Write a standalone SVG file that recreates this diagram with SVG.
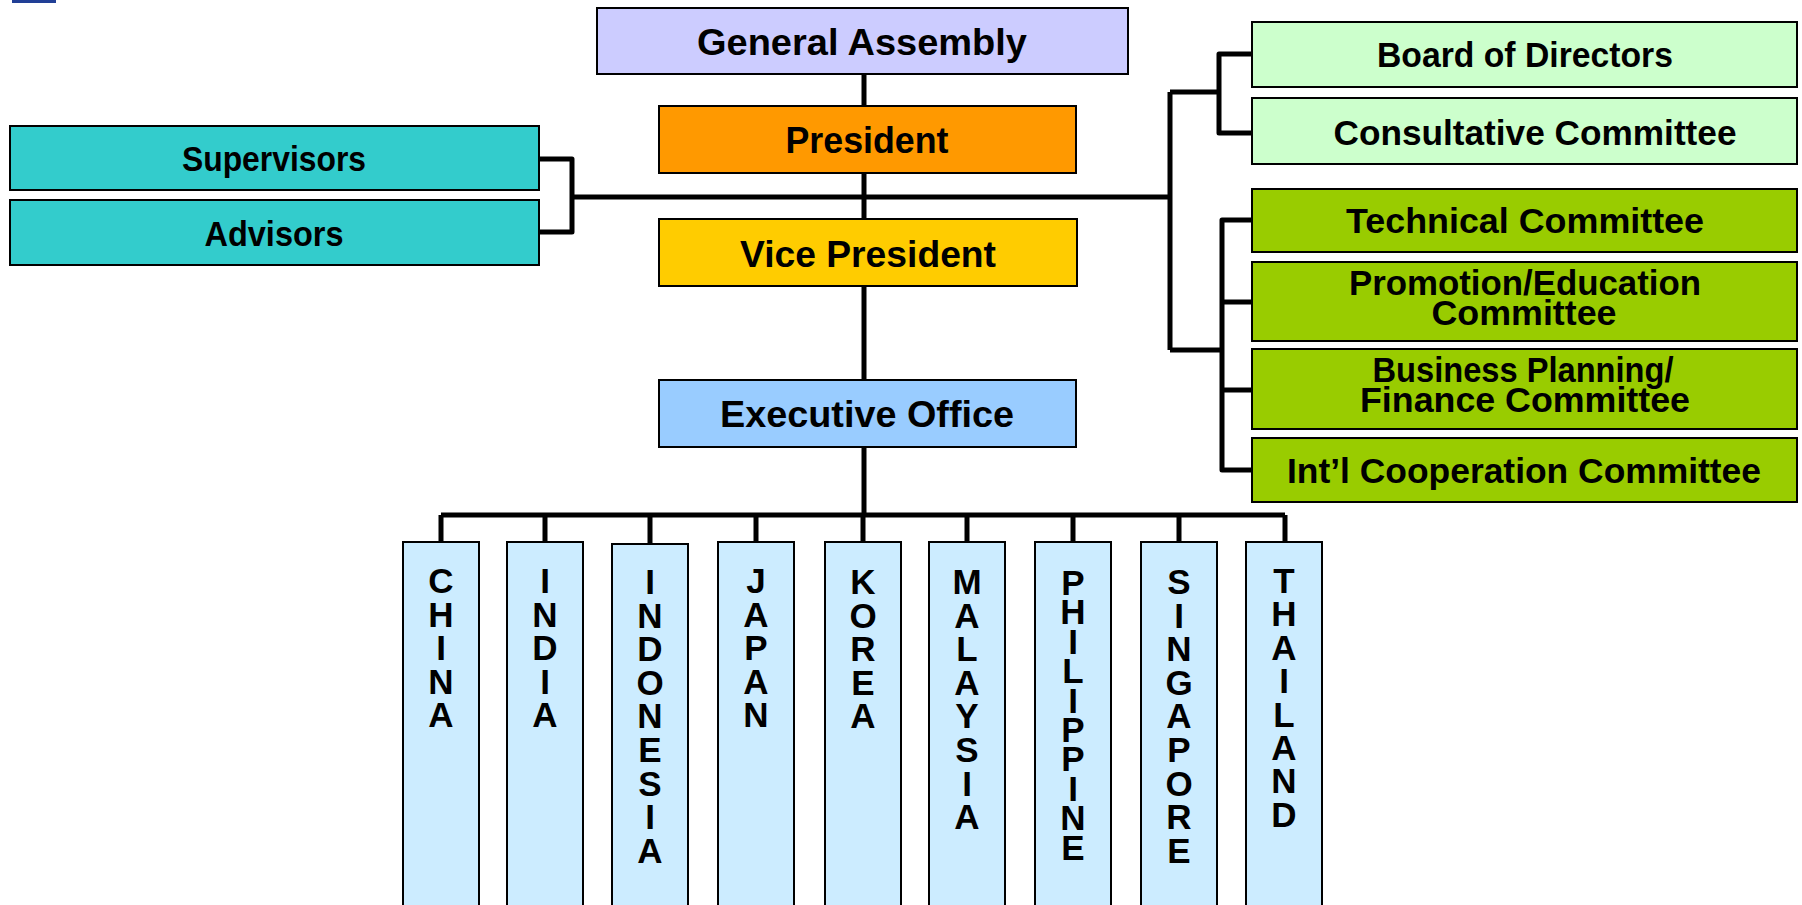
<svg xmlns="http://www.w3.org/2000/svg" width="1802" height="905" viewBox="0 0 1802 905">
<style>
.bx{stroke:#000;stroke-width:2}
.t{font-family:"Liberation Sans",Arial,sans-serif;font-weight:bold;fill:#000;text-anchor:middle}
.c{font-size:37px}
.s{font-size:35px}
.v{font-family:"Liberation Sans",Arial,sans-serif;font-weight:bold;font-size:35px;fill:#000;text-anchor:middle}
.cn{fill:#ccecff;stroke:#000;stroke-width:2}
.ln{fill:none;stroke:#000;stroke-width:5;stroke-linejoin:round}
</style>
<rect x="0" y="0" width="1802" height="905" fill="#fff"/>
<rect x="12" y="0" width="44" height="3" fill="#213f96"/>

<g id="connectors">
  <path class="ln" d="M864 74V106M864 173V219M864 286V380M864 447V515"/>
  <path class="ln" d="M539 159H572V232H539M572 197H1170"/>
  <path class="ln" d="M1170 92V350M1170 92H1219M1252 54H1219V133H1252"/>
  <path class="ln" d="M1170 350H1222M1252 220H1222V470H1252M1222 302H1252M1222 390H1252"/>
  <path class="ln" d="M441 515H1285M441 515V542M545 515V542M650 515V544M756 515V542M863 515V542M967 515V542M1073 515V542M1179 515V542M1285 515V542"/>
</g>

<g id="general-assembly">
  <rect class="bx" x="597" y="8" width="531" height="66" fill="#ccccff"/>
  <text class="t c" x="862" y="55" textLength="330" lengthAdjust="spacingAndGlyphs">General Assembly</text>
</g>
<g id="president">
  <rect class="bx" x="659" y="106" width="417" height="67" fill="#ff9900"/>
  <text class="t c" x="867" y="153" textLength="163" lengthAdjust="spacingAndGlyphs">President</text>
</g>
<g id="vice-president">
  <rect class="bx" x="659" y="219" width="418" height="67" fill="#ffcc00"/>
  <text class="t c" x="868" y="267" textLength="256" lengthAdjust="spacingAndGlyphs">Vice President</text>
</g>
<g id="executive-office">
  <rect class="bx" x="659" y="380" width="417" height="67" fill="#99ccff"/>
  <text class="t c" x="867" y="427" textLength="294" lengthAdjust="spacingAndGlyphs">Executive Office</text>
</g>

<g id="supervisors">
  <rect class="bx" x="10" y="126" width="529" height="64" fill="#33cccc"/>
  <text class="t s" x="274" y="171" textLength="184" lengthAdjust="spacingAndGlyphs">Supervisors</text>
</g>
<g id="advisors">
  <rect class="bx" x="10" y="200" width="529" height="65" fill="#33cccc"/>
  <text class="t s" x="274" y="246" textLength="139" lengthAdjust="spacingAndGlyphs">Advisors</text>
</g>

<g id="board-of-directors">
  <rect class="bx" x="1252" y="22" width="545" height="65" fill="#ccffcc"/>
  <text class="t s" x="1525" y="67" textLength="296" lengthAdjust="spacingAndGlyphs">Board of Directors</text>
</g>
<g id="consultative-committee">
  <rect class="bx" x="1252" y="98" width="545" height="66" fill="#ccffcc"/>
  <text class="t s" x="1535" y="145" textLength="403" lengthAdjust="spacingAndGlyphs">Consultative Committee</text>
</g>
<g id="technical-committee">
  <rect class="bx" x="1252" y="189" width="545" height="63" fill="#99cc00"/>
  <text class="t s" x="1525" y="233" textLength="358" lengthAdjust="spacingAndGlyphs">Technical Committee</text>
</g>
<g id="promotion-committee">
  <rect class="bx" x="1252" y="262" width="545" height="79" fill="#99cc00"/>
  <text class="t s" x="1525" y="295" textLength="352" lengthAdjust="spacingAndGlyphs">Promotion/Education</text>
  <text class="t s" x="1524" y="325" textLength="185" lengthAdjust="spacingAndGlyphs">Committee</text>
</g>
<g id="business-committee">
  <rect class="bx" x="1252" y="349" width="545" height="80" fill="#99cc00"/>
  <text class="t s" x="1523" y="382" textLength="301" lengthAdjust="spacingAndGlyphs">Business Planning/</text>
  <text class="t s" x="1525" y="412" textLength="330" lengthAdjust="spacingAndGlyphs">Finance Committee</text>
</g>
<g id="intl-committee">
  <rect class="bx" x="1252" y="438" width="545" height="64" fill="#99cc00"/>
  <text class="t s" x="1524" y="483" textLength="474" lengthAdjust="spacingAndGlyphs">Int&#8217;l Cooperation Committee</text>
</g>

<g id="china">
  <rect class="cn" x="403" y="542" width="76" height="370"/>
  <text class="v" x="441" y="593"><tspan x="441">C</tspan><tspan x="441" dy="33.5">H</tspan><tspan x="441" dy="33.5">I</tspan><tspan x="441" dy="33.5">N</tspan><tspan x="441" dy="33.5">A</tspan></text>
</g>
<g id="india">
  <rect class="cn" x="507" y="542" width="76" height="370"/>
  <text class="v" x="545" y="593"><tspan x="545">I</tspan><tspan x="545" dy="33.5">N</tspan><tspan x="545" dy="33.5">D</tspan><tspan x="545" dy="33.5">I</tspan><tspan x="545" dy="33.5">A</tspan></text>
</g>
<g id="indonesia">
  <rect class="cn" x="612" y="544" width="76" height="370"/>
  <text class="v" x="650" y="594"><tspan x="650">I</tspan><tspan x="650" dy="33.6">N</tspan><tspan x="650" dy="33.6">D</tspan><tspan x="650" dy="33.6">O</tspan><tspan x="650" dy="33.6">N</tspan><tspan x="650" dy="33.6">E</tspan><tspan x="650" dy="33.6">S</tspan><tspan x="650" dy="33.6">I</tspan><tspan x="650" dy="33.6">A</tspan></text>
</g>
<g id="japan">
  <rect class="cn" x="718" y="542" width="76" height="370"/>
  <text class="v" x="756" y="593"><tspan x="756">J</tspan><tspan x="756" dy="33.5">A</tspan><tspan x="756" dy="33.5">P</tspan><tspan x="756" dy="33.5">A</tspan><tspan x="756" dy="33.5">N</tspan></text>
</g>
<g id="korea">
  <rect class="cn" x="825" y="542" width="76" height="370"/>
  <text class="v" x="863" y="594"><tspan x="863">K</tspan><tspan x="863" dy="33.5">O</tspan><tspan x="863" dy="33.5">R</tspan><tspan x="863" dy="33.5">E</tspan><tspan x="863" dy="33.5">A</tspan></text>
</g>
<g id="malaysia">
  <rect class="cn" x="929" y="542" width="76" height="370"/>
  <text class="v" x="967" y="594"><tspan x="967">M</tspan><tspan x="967" dy="33.6">A</tspan><tspan x="967" dy="33.6">L</tspan><tspan x="967" dy="33.6">A</tspan><tspan x="967" dy="33.6">Y</tspan><tspan x="967" dy="33.6">S</tspan><tspan x="967" dy="33.6">I</tspan><tspan x="967" dy="33.6">A</tspan></text>
</g>
<g id="philippine">
  <rect class="cn" x="1035" y="542" width="76" height="370"/>
  <text class="v" x="1073" y="595"><tspan x="1073">P</tspan><tspan x="1073" dy="29.4">H</tspan><tspan x="1073" dy="29.4">I</tspan><tspan x="1073" dy="29.4">L</tspan><tspan x="1073" dy="29.4">I</tspan><tspan x="1073" dy="29.4">P</tspan><tspan x="1073" dy="29.4">P</tspan><tspan x="1073" dy="29.4">I</tspan><tspan x="1073" dy="29.4">N</tspan><tspan x="1073" dy="29.4">E</tspan></text>
</g>
<g id="singapore">
  <rect class="cn" x="1141" y="542" width="76" height="370"/>
  <text class="v" x="1179" y="594"><tspan x="1179">S</tspan><tspan x="1179" dy="33.6">I</tspan><tspan x="1179" dy="33.6">N</tspan><tspan x="1179" dy="33.6">G</tspan><tspan x="1179" dy="33.6">A</tspan><tspan x="1179" dy="33.6">P</tspan><tspan x="1179" dy="33.6">O</tspan><tspan x="1179" dy="33.6">R</tspan><tspan x="1179" dy="33.6">E</tspan></text>
</g>
<g id="thailand">
  <rect class="cn" x="1246" y="542" width="76" height="370"/>
  <text class="v" x="1284" y="593"><tspan x="1284">T</tspan><tspan x="1284" dy="33.4">H</tspan><tspan x="1284" dy="33.4">A</tspan><tspan x="1284" dy="33.4">I</tspan><tspan x="1284" dy="33.4">L</tspan><tspan x="1284" dy="33.4">A</tspan><tspan x="1284" dy="33.4">N</tspan><tspan x="1284" dy="33.4">D</tspan></text>
</g>
</svg>
